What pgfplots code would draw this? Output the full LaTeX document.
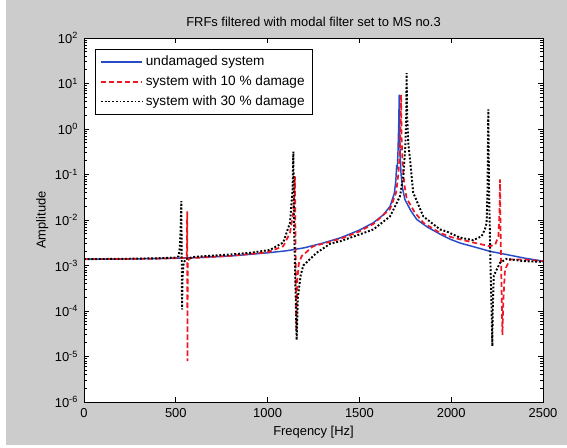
\documentclass[border=0pt]{standalone}
\usepackage{fontspec}
\setmainfont{Liberation Sans}
\usepackage{pgfplots}
\pgfplotsset{compat=1.18}
\definecolor{mblue}{RGB}{40,75,200}
\definecolor{mred}{RGB}{240,25,35}
\definecolor{figgray}{RGB}{204,204,204}
\tikzset{
  bluesolid/.style={draw=mblue, line width=1.1pt},
  reddash/.style={draw=mred, line width=1.3pt, dash pattern=on 3.75pt off 2.25pt},
  blackdot/.style={draw=black, line width=1.45pt, dash pattern=on 1.4pt off 1.4pt},
}
\pgfplotsset{
  legend image code/.code={\draw[#1] (0pt,0pt) -- (31pt,0pt);},
}
\newcommand{\mfont}{\fontsize{9.7}{11}\selectfont}
\begin{document}
\begin{tikzpicture}
\fill[white] (0pt,0pt) rectangle (425.25pt,335.25pt);
\fill[figgray] (4.5pt,1.5pt) rectangle (425.25pt,335.25pt);
\begin{axis}[
  at={(63pt,33.75pt)}, anchor=south west,
  scale only axis, width=344.25pt, height=273pt,
  xmin=0, xmax=2500, ymin=1e-6, ymax=1e2,
  ymode=log,
  axis background/.style={fill=white},
  axis line style={black, line width=0.6pt},
  tick align=inside, tick pos=both,
  major tick length=4pt, minor tick length=2pt,
  every tick/.style={black, line width=0.5pt},
  xtick={0,500,1000,1500,2000,2500},
  ytick={1e-6,1e-5,1e-4,1e-3,1e-2,1e-1,1e0,1e1,1e2},
  yticklabels={10\textsuperscript{-6},10\textsuperscript{-5},10\textsuperscript{-4},10\textsuperscript{-3},10\textsuperscript{-2},10\textsuperscript{-1},10\textsuperscript{0},10\textsuperscript{1},10\textsuperscript{2}},
  /pgf/number format/assume math mode=true,
  /pgf/number format/1000 sep={},
  ticklabel style={font=\mfont},
  yticklabel style={xshift=-1pt},
  xticklabel style={yshift=-1pt},
  label style={font=\mfont},
  ylabel style={yshift=-2pt},
  title style={font=\mfont, yshift=-1pt},
  title={FRFs filtered with modal filter set to MS no.3},
  xlabel={Freqency [Hz]},
  ylabel={Amplitude},
  legend style={at={(0.024,0.97)}, anchor=north west,
    font=\fontsize{10.2}{12}\selectfont, inner xsep=3.5pt, inner ysep=3pt,
    row sep=2pt, cells={anchor=west}},
  legend cell align=left,
]
\addplot[bluesolid] coordinates {
(0,1.38e-3) (200,1.39e-3) (400,1.42e-3) (600,1.48e-3) (800,1.62e-3)
(1000,1.9e-3) (1100,2.1e-3) (1200,2.45e-3) (1300,3.1e-3) (1400,4.1e-3)
(1500,6.0e-3) (1576,8.7e-3) (1630,1.3e-2) (1667,2.0e-2) (1690,3.8e-2)
(1698,0.07) (1703,0.16) (1706,0.13) (1710,0.3) (1714,1.2) (1717,5.7)
(1719,1.0) (1722,0.25) (1727,0.1) (1735,0.05) (1748,0.028) (1780,0.016)
(1812,0.0103) (1870,7.0e-3) (1939,4.9e-3) (1993,3.8e-3) (2050,3.1e-3)
(2120,2.6e-3) (2211,2.05e-3) (2302,1.74e-3) (2400,1.45e-3) (2500,1.25e-3)
};
\addlegendentry{undamaged system}
\addplot[reddash] coordinates {
(0,1.38e-3) (200,1.39e-3) (400,1.42e-3) (550,1.46e-3) (560,1.5e-3)
(562,0.0155) (563.5,7.9e-6) (565,1.3e-3) (580,1.45e-3) (800,1.63e-3)
(1000,1.95e-3) (1085,2.65e-3) (1122,5.2e-3) (1140,0.015) (1146,0.04)
(1149,0.091) (1156,4e-5) (1162,5e-4) (1170,1.1e-3) (1185,1.6e-3)
(1248,2.65e-3) (1300,3.0e-3) (1400,3.9e-3) (1500,5.6e-3) (1576,8.2e-3)
(1667,1.75e-2) (1700,4e-2) (1712,0.1) (1720,0.3) (1724,1.0) (1727,5.7)
(1730,0.6) (1736,0.15) (1745,0.06) (1757,0.03) (1800,0.015) (1848,8.7e-3)
(1939,5.2e-3) (2000,4.2e-3) (2120,3.2e-3) (2211,2.65e-3) (2240,2.9e-3)
(2257,4.4e-3) (2263,0.015) (2266,0.078) (2268,0.01) (2275,2e-4) (2279,3e-5)
(2285,2e-4) (2293,8.2e-4) (2320,1.35e-3) (2400,1.35e-3) (2500,1.25e-3)
};
\addlegendentry{system with 10 \% damage}
\addplot[blackdot] coordinates {
(0,1.38e-3) (200,1.4e-3) (400,1.44e-3) (500,1.5e-3) (515,1.6e-3)
(522,2.5e-3) (527,8e-3) (530,0.026) (532,2e-3) (534,1.08e-4) (537,6e-4)
(543,1.15e-3) (555,1.4e-3) (600,1.55e-3) (800,1.75e-3) (904,1.9e-3)
(1013,2.2e-3) (1085,3.2e-3) (1122,8.7e-3) (1136,0.047) (1140,0.32)
(1145,5e-3) (1152,3e-4) (1158,2.3e-5) (1165,2e-4) (1180,6e-4) (1194,1.0e-3)
(1267,1.9e-3) (1340,3.0e-3) (1394,3.4e-3) (1500,4.8e-3) (1576,6.2e-3)
(1667,1.2e-2) (1721,3.3e-2) (1740,0.1) (1750,0.4) (1755,2) (1757,17)
(1760,2) (1766,0.5) (1776,0.21) (1793,0.04) (1848,0.012) (1939,6.2e-3)
(1975,5.6e-3) (2048,4.1e-3) (2120,3.6e-3) (2166,4.4e-3) (2185,6.5e-3)
(2193,8.7e-3) (2198,0.05) (2202,2.7) (2206,0.05) (2214,1e-3) (2220,1e-4)
(2224,1.7e-5) (2226,1e-4) (2232,6e-4) (2266,1.15e-3) (2302,1.4e-3)
(2393,1.25e-3) (2500,1.2e-3)
};
\addlegendentry{system with 30 \% damage}
\end{axis}
\end{tikzpicture}
\end{document}
